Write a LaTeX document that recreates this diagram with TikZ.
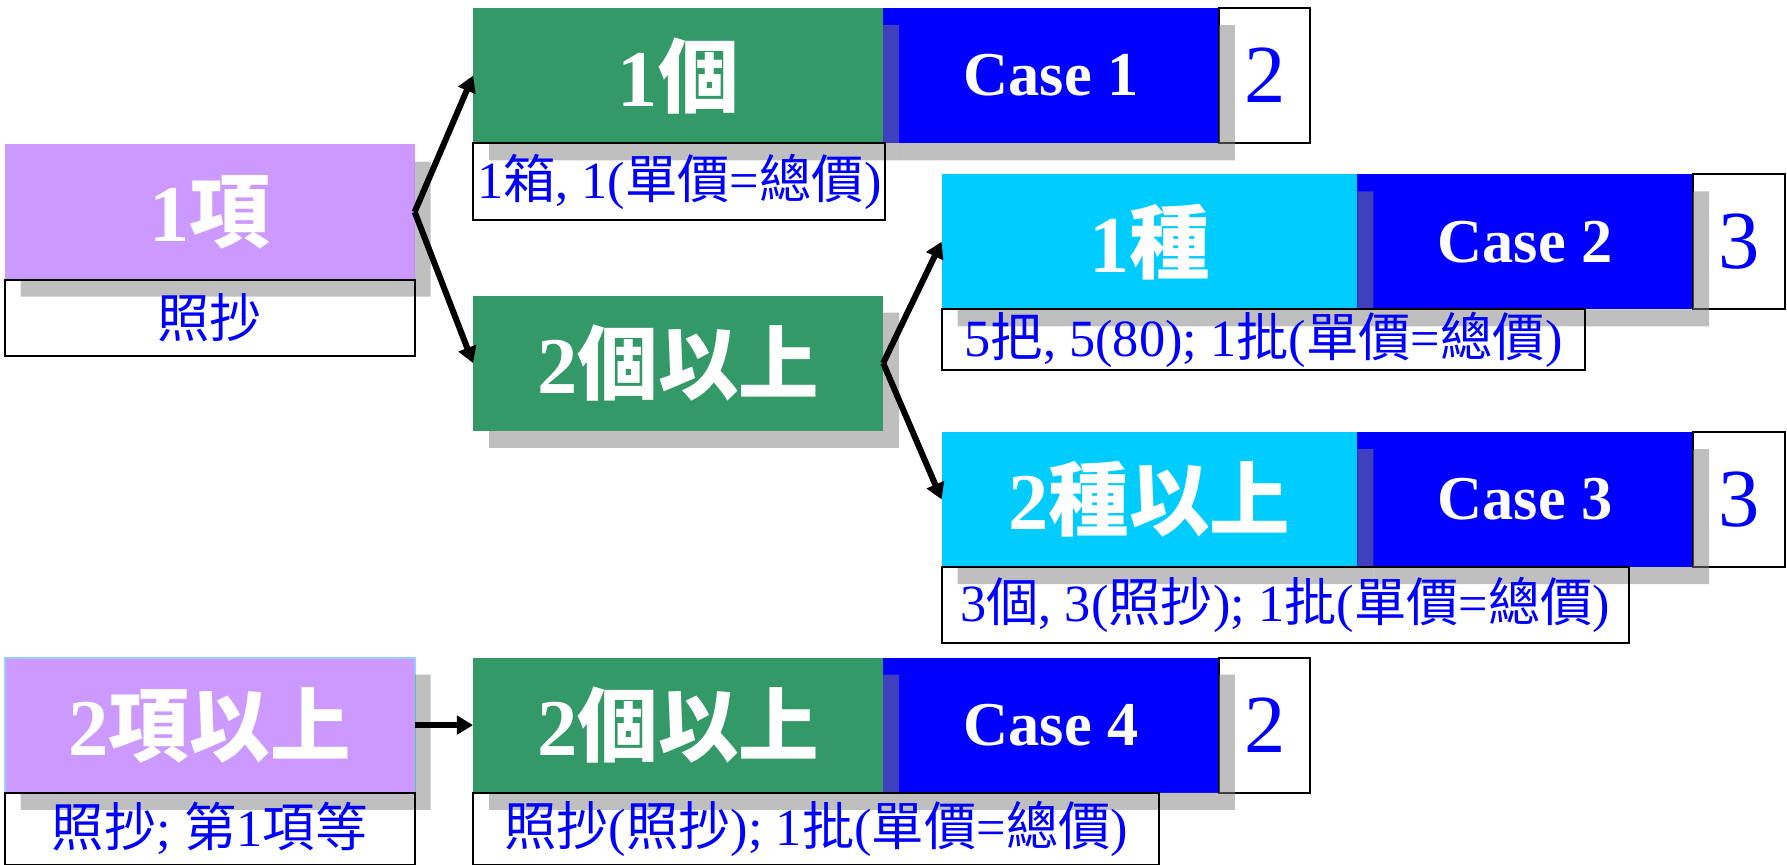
\documentclass[tikz,border=0pt]{standalone}
\usepackage{fontspec}
\setmainfont{Liberation Serif}
\newfontfamily\cjk{Noto Sans CJK TC}
\usepackage{tikz}
\usetikzlibrary{arrows.meta}
\usetikzlibrary{positioning}
\definecolor{itempurple}{HTML}{CC99FF}
\definecolor{itemgreen}{HTML}{339966}
\definecolor{itemcyan}{HTML}{00CCFF}
\definecolor{caseblue}{HTML}{0000FF}
\definecolor{rimblue}{HTML}{99CCFF}
\newcommand\zh[1]{{\cjk #1}}

\begin{document}
\begin{tikzpicture}[x=1cm,y=-1cm,>={Triangle[length=8pt,width=9pt]},line width=3pt,
  item node/.style={rectangle,inner sep=0pt,outer sep=0pt,anchor=north west,minimum width=7.16cm,minimum height=2.36cm,text=white,font=\fontsize{40}{44}\selectfont\bfseries},
  case node/.style={rectangle,inner sep=0pt,outer sep=0pt,fill=caseblue,minimum width=5.86cm,minimum height=2.36cm,text=white,font=\fontsize{31}{34}\selectfont\bfseries},
  num node/.style={rectangle,draw,line width=1pt,fill=white,inner sep=0pt,outer sep=0pt,minimum width=1.6cm,minimum height=2.36cm,text=caseblue,font=\fontsize{41}{44}\selectfont},
  note node/.style={rectangle,draw,line width=1pt,inner sep=0pt,outer sep=0pt,text=caseblue,font=\fontsize{26}{30}\selectfont},
  shade box/.style={fill=gray,opacity=0.5}]

  \useasboundingbox (0,0) rectangle (31.2,15.1);

  % boxes
  \node[item node,fill=itempurple] (a1) at (0.08,2.52) {1\zh{項}};
  \node[item node,fill=itemgreen] (b1) at (8.26,0.14) {1\zh{個}};
  \node[case node] (c1) [right=0pt of b1] {Case 1};
  \node[num node] (n1) [right=0pt of c1] {2};
  \node[item node,fill=itemgreen] (b2) at (8.26,5.16) {2\zh{個以上}};
  \node[item node,fill=itemcyan,minimum width=7.26cm] (d1) at (16.44,3.04) {1\zh{種}};
  \node[case node] (c2) [right=0pt of d1] {Case 2};
  \node[num node] (n2) [right=0pt of c2] {3};
  \node[item node,fill=itemcyan,minimum width=7.26cm] (d2) at (16.44,7.54) {2\zh{種以上}};
  \node[case node] (c3) [right=0pt of d2] {Case 3};
  \node[num node] (n3) [right=0pt of c3] {3};
  \node[item node,fill=itempurple,draw=rimblue,line width=1pt] (a2) at (0.08,11.48) {2\zh{項以上}};
  \node[item node,fill=itemgreen] (b3) at (8.26,11.48) {2\zh{個以上}};
  \node[case node] (c4) [right=0pt of b3] {Case 4};
  \node[num node] (n4) [right=0pt of c4] {2};

  % shadows
  \foreach \n in {a1,b1,c1,b2,d1,c2,d2,c3,a2,b3,c4}
    \fill[shade box] ([shift={(0,0.3)}]\n.north east) -- ([shift={(0.28,0.3)}]\n.north east)
      -- ([shift={(0.28,0.3)}]\n.south east) -- ([shift={(0.28,0.3)}]\n.south west)
      -- ([shift={(0.28,0)}]\n.south west) -- (\n.south east) -- cycle;

  % notes
  \node[note node,minimum width=7.16cm,minimum height=1.34cm] (m1) [below right=0pt of a1.south west] {\zh{照抄}};
  \node[note node,minimum width=7.2cm,minimum height=1.34cm] (m2) [below right=0pt of b1.south west] {1\zh{箱}, 1(\zh{單價}=\zh{總價})};
  \node[note node,minimum width=11.24cm,minimum height=1.06cm] (m3) [below right=0pt of d1.south west] {5\zh{把}, 5(80); 1\zh{批}(\zh{單價}=\zh{總價})};
  \node[note node,minimum width=12cm,minimum height=1.32cm] (m4) [below right=0pt of d2.south west] {3\zh{個}, 3(\zh{照抄}); 1\zh{批}(\zh{單價}=\zh{總價})};
  \node[note node,minimum width=7.16cm,minimum height=1.26cm] (m5) [below right=0pt of a2.south west] {\zh{照抄}; \zh{第}1\zh{項等}};
  \node[note node,minimum width=11.98cm,minimum height=1.26cm] (m6) [below right=0pt of b3.south west] {\zh{照抄}(\zh{照抄}); 1\zh{批}(\zh{單價}=\zh{總價})};

  \path[->]
    (a1.east) edge (b1.west)
              edge (b2.west)
    (b2.east) edge (d1.west)
              edge (d2.west)
    (a2.east) edge (b3.west);

\end{tikzpicture}
\end{document}
